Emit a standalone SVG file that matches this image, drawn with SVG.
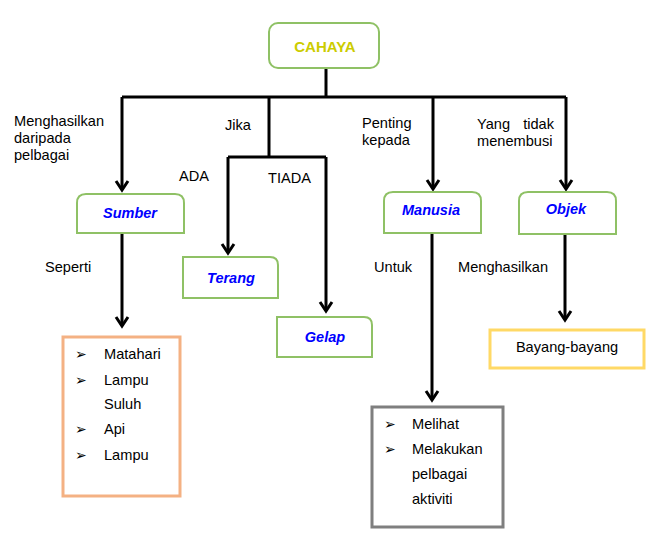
<svg xmlns="http://www.w3.org/2000/svg" width="669" height="548" viewBox="0 0 669 548">
<defs>
<style>
.t{font-family:"Liberation Sans",Arial,sans-serif;font-size:14.6px;fill:#000}
.n{font-family:"Liberation Sans",Arial,sans-serif;font-size:14.5px;font-weight:bold;font-style:italic;fill:#0000ff;text-anchor:middle}
.b{font-family:"DejaVu Sans",sans-serif;font-size:14px;fill:#000}
.g{fill:#fff;stroke:#8fc165;stroke-width:2}
.c{fill:none;stroke:#000;stroke-width:3}
.a{fill:none;stroke:#000;stroke-width:3;marker-end:url(#ah)}
</style>
<marker id="ah" markerUnits="userSpaceOnUse" markerWidth="20" markerHeight="20" refX="0" refY="0" viewBox="-12 -10 16 20" orient="auto">
<path d="M-9,-6 L0,0 L-9,6" fill="none" stroke="#000" stroke-width="3"/>
</marker>
</defs>
<rect width="669" height="548" fill="#fff"/>
<g id="connectors">
<path class="c" d="M326,68 V97"/>
<path class="c" d="M122,97 H566"/>
<path class="a" d="M122,97 V190"/>
<path class="a" d="M433,97 V189"/>
<path class="a" d="M566,97 V189"/>
<path class="c" d="M269,97 V157"/>
<path class="c" d="M228,157 H326"/>
<path class="a" d="M228,157 V253"/>
<path class="a" d="M326,157 V311"/>
<path class="a" d="M122,233 V326"/>
<path class="a" d="M432,233 V400"/>
<path class="a" d="M565,234 V320"/>
</g>
<g id="cahaya">
<rect x="269" y="23" width="110" height="45" rx="9" ry="9" class="g"/>
<text x="325" y="52" font-family="'Liberation Sans',Arial,sans-serif" font-size="15" font-weight="bold" fill="#cccc00" text-anchor="middle">CAHAYA</text>
</g>
<g id="sumber">
<path class="g" d="M77,233 V203 Q77,194 86,194 H175 Q184,194 184,203 V233 Z"/>
<text class="n" x="130" y="218">Sumber</text>
</g>
<g id="terang">
<path class="g" d="M183,298 V257 H270 Q278,257 278,265 V298 Z"/>
<text class="n" x="231" y="283">Terang</text>
</g>
<g id="gelap">
<path class="g" d="M277,357 V317 H364 Q372,317 372,325 V357 Z"/>
<text class="n" x="325" y="342">Gelap</text>
</g>
<g id="manusia">
<path class="g" d="M384,233 V201 Q384,192 393,192 H472 Q481,192 481,201 V233 Z"/>
<text class="n" x="431" y="215">Manusia</text>
</g>
<g id="objek">
<path class="g" d="M519,234 V201 Q519,192 528,192 H607 Q616,192 616,201 V234 Z"/>
<text class="n" x="566" y="214">Objek</text>
</g>
<g id="bayang">
<rect x="490" y="330" width="154" height="38" fill="#fff" stroke="#ffd966" stroke-width="3"/>
<text class="t" x="567" y="352" text-anchor="middle">Bayang-bayang</text>
</g>
<g id="sumber-list">
<rect x="63" y="337" width="117" height="159" fill="#fff" stroke="#f4b183" stroke-width="3"/>
<text class="b" x="75" y="359">➢</text>
<text class="t" x="104" y="359">Matahari</text>
<text class="b" x="75" y="385">➢</text>
<text class="t" x="104" y="385">Lampu</text>
<text class="t" x="104" y="409">Suluh</text>
<text class="b" x="75" y="434">➢</text>
<text class="t" x="104" y="434">Api</text>
<text class="b" x="75" y="460">➢</text>
<text class="t" x="104" y="460">Lampu</text>
</g>
<g id="manusia-list">
<rect x="372" y="407" width="131" height="120" fill="#fff" stroke="#7f7f7f" stroke-width="3"/>
<text class="b" x="384" y="429">➢</text>
<text class="t" x="412" y="429">Melihat</text>
<text class="b" x="384" y="454">➢</text>
<text class="t" x="412" y="454">Melakukan</text>
<text class="t" x="412" y="479">pelbagai</text>
<text class="t" x="412" y="504">aktiviti</text>
</g>
<g id="labels">
<text class="t" x="14" y="126">Menghasilkan</text>
<text class="t" x="14" y="143">daripada</text>
<text class="t" x="14" y="160">pelbagai</text>
<text class="t" x="225" y="130">Jika</text>
<text class="t" x="179" y="181">ADA</text>
<text class="t" x="268" y="183">TIADA</text>
<text class="t" x="362" y="128">Penting</text>
<text class="t" x="362" y="145">kepada</text>
<text class="t" x="477" y="129">Yang</text>
<text class="t" x="554" y="129" text-anchor="end">tidak</text>
<text class="t" x="477" y="146">menembusi</text>
<text class="t" x="45" y="272">Seperti</text>
<text class="t" x="374" y="272">Untuk</text>
<text class="t" x="458" y="272">Menghasilkan</text>
</g>
</svg>
